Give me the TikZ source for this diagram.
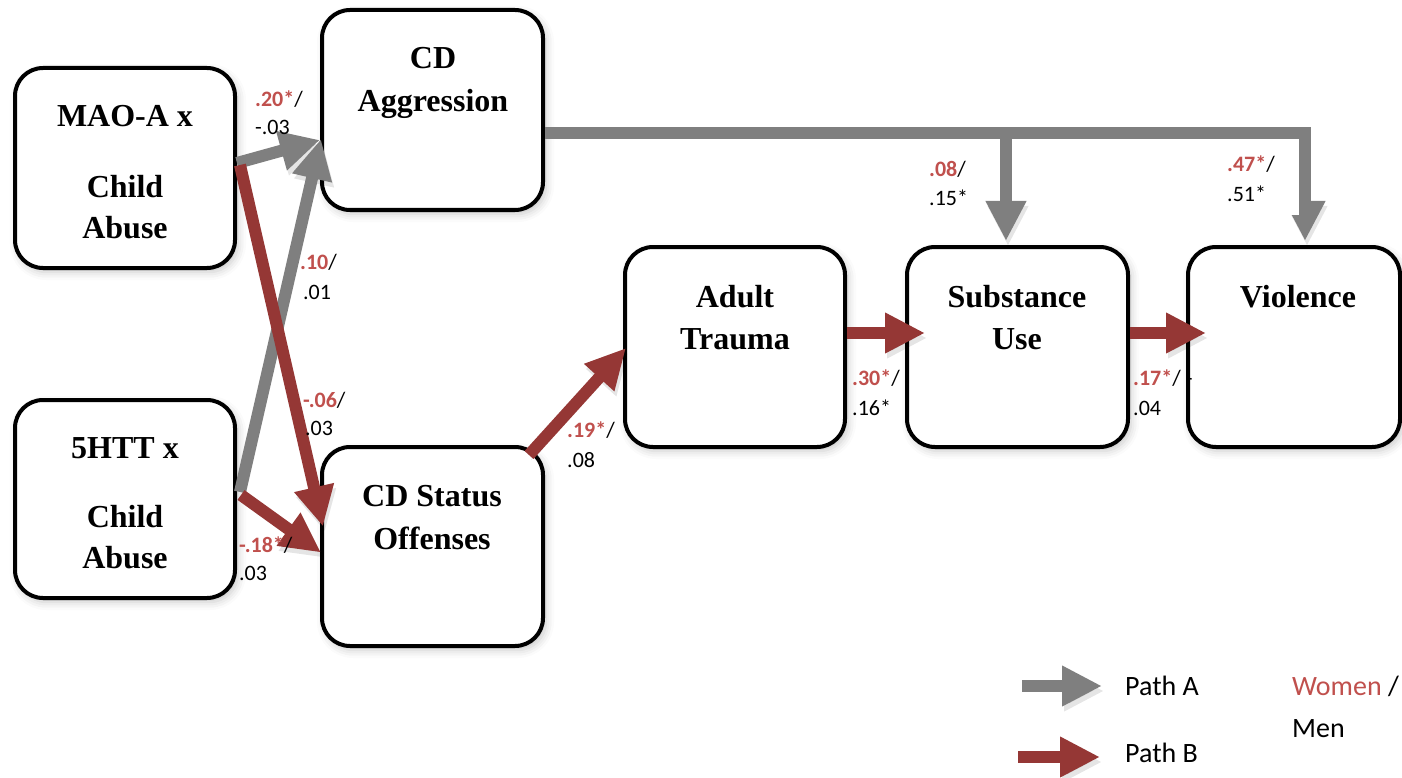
\documentclass[tikz,border=0pt]{standalone}
\usepackage{fontspec}
\setmainfont{Liberation Serif}
\newfontfamily\calfont{Carlito}
\usetikzlibrary{arrows.meta,shadows.blur}

\definecolor{gA}{HTML}{7F7F7F}
\definecolor{rB}{HTML}{953735}
\definecolor{womenred}{HTML}{C0504D}

\tikzset{
  stage/.style={draw=black, line width=4pt, fill=white, rounded corners=28pt,
    minimum width=220pt, minimum height=200pt, inner sep=0pt,
    blur shadow={shadow xshift=3pt, shadow yshift=-4pt, shadow blur radius=8pt, shadow opacity=22}},
  stagetext/.style={font=\fontsize{32}{38}\selectfont\bfseries, anchor=base, inner sep=0pt},
  coef/.style={font=\calfont\fontsize{22}{26}\selectfont, anchor=base west, inner sep=0pt},
  legendtext/.style={font=\calfont\fontsize{28}{34}\selectfont, anchor=base west, inner sep=0pt},
  patharrow/.style={line width=12pt, -{Triangle[length=40pt,width=38pt]},
    preaction={draw=black, draw opacity=0.10, fill opacity=0.10,
      transform canvas={xshift=2pt, yshift=-5pt}}},
  arrowA/.style={patharrow, draw=gA},
  arrowB/.style={patharrow, draw=rB},
}
\newcommand{\wcoef}[1]{\textcolor{womenred}{\bfseries #1}}

\begin{document}
\begin{tikzpicture}[x=1pt, y=-1pt]
\useasboundingbox (0,0) rectangle (1402,778);

% ---- boxes ----
\node[stage] (mao) at (125,168) {};
\node[stage, minimum height=198pt] (htt) at (125,499) {};
\node[stage, minimum width=221pt] (cda) at (432.5,110) {};
\node[stage, minimum width=221pt, minimum height=199pt] (cds) at (432.5,546.5) {};
\node[stage] (tra) at (735,347) {};
\node[stage, minimum width=221pt] (sub) at (1017.5,347) {};
\node[stage, minimum width=212pt] (vio) at (1294,347) {};

% ---- box texts ----
\node[stagetext] (maoA) at (125,127) {MAO-A x};
\node[stagetext] (maoB) at (125,197) {Child};
\node[stagetext] (maoC) at (125,238) {Abuse};
\node[stagetext] (httA) at (125,458) {5HTT x};
\node[stagetext] (httB) at (125,527) {Child};
\node[stagetext] (httC) at (125,568) {Abuse};
\node[stagetext] (cdaA) at (433,69) {CD};
\node[stagetext] (cdaB) at (433,112) {Aggression};
\node[stagetext] (cdsA) at (432,506) {CD Status};
\node[stagetext] (cdsB) at (432,549) {Offenses};
\node[stagetext] (traA) at (735,307) {Adult};
\node[stagetext] (traB) at (735,349) {Trauma};
\node[stagetext] (subA) at (1017,307) {Substance};
\node[stagetext] (subB) at (1017,349) {Use};
\node[stagetext] (vioA) at (1298,307) {Violence};

% ---- end points of the connectors ----
\coordinate (g1s) at ([yshift=5pt]mao.east);
\coordinate (g2s) at ([xshift=3pt,yshift=7pt]htt.east);
\coordinate (g1e) at ([yshift=-30pt]cda.west);
\coordinate (g2e) at ([xshift=1pt,yshift=-29pt]cda.west);
\coordinate (r1s) at ([xshift=3pt,yshift=3pt]mao.east);
\coordinate (r2s) at ([xshift=4pt,yshift=4pt]htt.east);
\coordinate (r1e) at ([xshift=3pt,yshift=20pt]cds.west);
\coordinate (r2e) at ([xshift=1pt,yshift=-6pt]cds.west);
\coordinate (r3s) at ([xshift=-16pt,yshift=-10pt]cds.north east);
\coordinate (r3e) at ([xshift=3pt,yshift=-1pt]tra.west);
\coordinate (r4s) at ([yshift=14pt]tra.east);
\coordinate (r4e) at ([xshift=20pt,yshift=14pt]sub.west);
\coordinate (r5s) at ([yshift=14pt]sub.east);
\coordinate (r5e) at ([xshift=20pt,yshift=14pt]vio.west);
\coordinate (bus) at ([yshift=-23pt]cda.east);
\coordinate (b1e) at ([xshift=-11.5pt,yshift=4pt]sub.north);
\coordinate (b2e) at ([xshift=11pt,yshift=4pt]vio.north);

% ---- Path A (grey) ----
\draw[arrowA] (g1s) -- (g1e);
\draw[arrowA] (g2s) -- (g2e);
\draw[arrowA, line join=miter] (bus) -- (bus -| b2e) -- (b2e);
\draw[arrowA] (bus -| b1e) -- (b1e);

% label panel beside the right branch
\fill[white] (1207,143) rectangle (1299,215);

% ---- Path B (red) ----
\draw[arrowB] (r1s) -- (r1e);
\draw[arrowB] (r2s) -- (r2e);
\draw[arrowB] (r3s) -- (r3e);
\draw[arrowB] (r4s) -- (r4e);
\draw[arrowB] (r5s) -- (r5e);

% ---- coefficients: women / men ----
\node[coef] (c1a) at (255,107) {\wcoef{.20*}/};
\node[coef] (c1b) at (255,135) {-.03};
\node[coef] (c2a) at (300,269) {\wcoef{.10}/};
\node[coef] (c2b) at (303,299) {.01};
\node[coef] (c3a) at (303,407) {\wcoef{-.06}/};
\node[coef] (c3b) at (305,435) {.03};
\node[coef] (c4a) at (239,552) {\wcoef{-.18*}/};
\node[coef] (c4b) at (239,580) {.03};
\node[coef] (c5a) at (567,437) {\wcoef{.19*}/};
\node[coef] (c5b) at (567,467) {.08};
\node[coef] (c6a) at (852,385) {\wcoef{.30*}/};
\node[coef] (c6b) at (852,415) {.16*};
\node[coef] (c7a) at (1133,385) {\wcoef{.17*}/ -};
\node[coef] (c7b) at (1133,415) {.04};
\node[coef] (c8a) at (929,177) {\wcoef{.08}/};
\node[coef] (c8b) at (929,205) {.15*};
\node[coef] (c9a) at (1227,172) {\wcoef{.47*}/};
\node[coef] (c9b) at (1227,202) {.51*};

% ---- legend ----
\coordinate (lAs) at (1022,686);
\coordinate (lAe) at (1102,686);
\coordinate (lBs) at (1018,757);
\coordinate (lBe) at (1100,757);
\draw[arrowA] (lAs) -- (lAe);
\draw[arrowB] (lBs) -- (lBe);
\node[legendtext] (legA) at (1125,695) {Path A};
\node[legendtext] (legB) at (1125,762) {Path B};
\node[legendtext] (legW) at (1292,695) {\textcolor{womenred}{Women} /};
\node[legendtext] (legM) at (1292,737) {Men};
\end{tikzpicture}
\end{document}
